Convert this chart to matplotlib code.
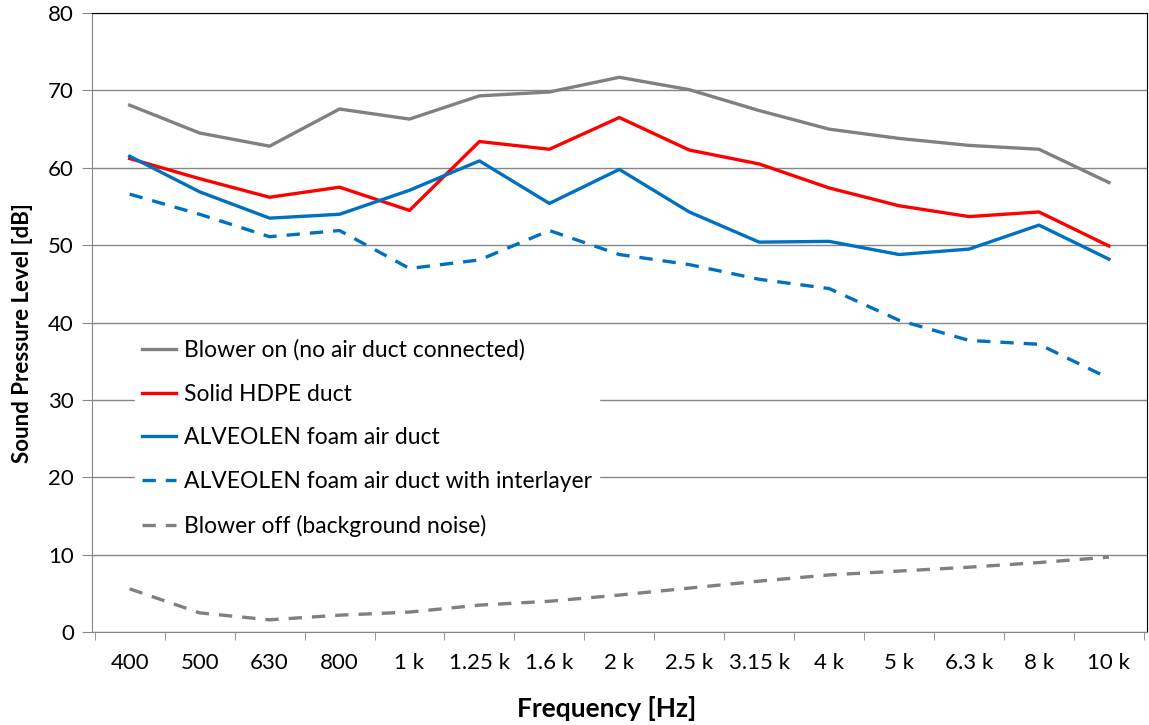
import matplotlib.pyplot as plt
import numpy as np

plt.rcParams['font.family'] = ['Lato', 'DejaVu Sans']

freqs = ['400', '500', '630', '800', '1 k', '1.25 k', '1.6 k', '2 k', '2.5 k',
         '3.15 k', '4 k', '5 k', '6.3 k', '8 k', '10 k']

blower_on = [68.1, 64.5, 62.8, 67.6, 66.3, 69.3, 69.8, 71.7, 70.1, 67.4,
             65.0, 63.8, 62.9, 62.4, 58.1]
hdpe = [61.2, 58.6, 56.2, 57.5, 54.5, 63.4, 62.4, 66.5, 62.3, 60.5,
        57.4, 55.1, 53.7, 54.3, 49.9]
alveolen = [61.5, 56.9, 53.5, 54.0, 57.1, 60.9, 55.4, 59.8, 54.3, 50.4,
            50.5, 48.8, 49.5, 52.6, 48.2]
alveolen_inter = [56.6, 54.0, 51.1, 51.9, 47.0, 48.1, 51.9, 48.8, 47.5, 45.6,
                  44.4, 40.3, 37.7, 37.2, 32.8]
blower_off = [5.6, 2.5, 1.6, 2.2, 2.6, 3.5, 4.0, 4.8, 5.7, 6.6,
              7.4, 7.9, 8.4, 9.0, 9.7]

gray = '#808080'
red = '#FF0000'
blue = '#0070C0'

fig = plt.figure(figsize=(11.49, 7.25), dpi=100)
ax = fig.add_axes([0.080, 0.128, 0.918, 0.854])

x = np.arange(len(freqs))
lw = 2.4
ax.plot(x, blower_on, color=gray, lw=lw, label='Blower on (no air duct connected)')
ax.plot(x, hdpe, color=red, lw=lw, label='Solid HDPE duct')
ax.plot(x, alveolen, color=blue, lw=lw, label='ALVEOLEN foam air duct')
ax.plot(x, alveolen_inter, color=blue, lw=lw, ls=(0, (4, 3)),
        label='ALVEOLEN foam air duct with interlayer')
ax.plot(x, blower_off, color=gray, lw=lw, ls=(0, (4, 3)),
        label='Blower off (background noise)')

ax.set_xlim(-0.54, 14.54)
ax.set_ylim(0, 80)
ax.set_yticks(np.arange(0, 81, 10))
ax.yaxis.grid(True, color='#868686', lw=1)
ax.set_axisbelow(True)

ax.set_xticks(x)
ax.set_xticklabels(freqs, fontsize=16)
ax.set_xticks(np.arange(-0.5, 15, 1), minor=True)
ax.tick_params(axis='x', which='major', length=0, pad=15)
ax.tick_params(axis='x', which='minor', length=6, color='#868686')
ax.tick_params(axis='y', labelsize=16, length=7, color='#868686', pad=6)

for s in ['left', 'bottom']:
    ax.spines[s].set_color('#868686')
for s in ['top', 'right']:
    ax.spines[s].set_color('black')

ax.set_xlabel('Frequency [Hz]', fontsize=19, fontweight='bold')
ax.set_ylabel('Sound Pressure Level [dB]', fontsize=16, fontweight='bold')
ax.xaxis.set_label_coords(0.488, -0.103)
ax.yaxis.set_label_coords(-0.056, 0.483)

leg = ax.legend(loc='upper left', bbox_to_anchor=(0.030, 0.503), fontsize=16.5,
                frameon=True, fancybox=False, framealpha=1, edgecolor='white',
                handlelength=1.5, handletextpad=0.35, labelspacing=1.0,
                borderpad=0.3)

fig.savefig('out.png', dpi=100)
